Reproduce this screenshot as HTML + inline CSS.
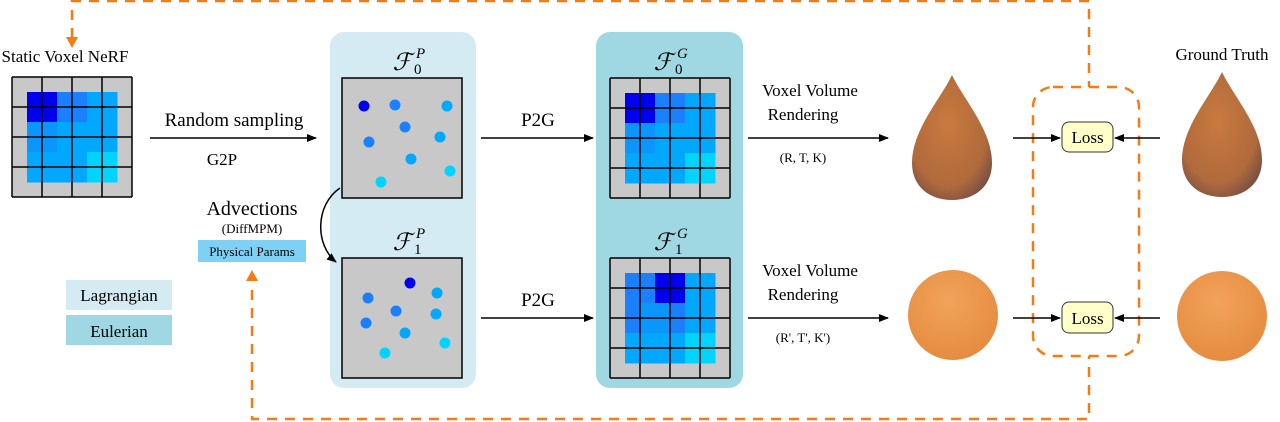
<!DOCTYPE html>
<html><head><meta charset="utf-8"><style>
html,body{margin:0;padding:0;background:#fff;width:1280px;height:422px;overflow:hidden}
svg, svg text{font-family:"Liberation Serif","DejaVu Serif",serif !important}
</style></head><body>
<svg id="s" width="1280" height="422" viewBox="0 0 1280 422" xmlns="http://www.w3.org/2000/svg" font-family="Liberation Serif, DejaVu Serif, serif">
<defs>
<marker id="ah" markerWidth="10" markerHeight="8" refX="9" refY="4" orient="auto" markerUnits="userSpaceOnUse"><path d="M0,0 L10,4 L0,8 z" fill="#000"/></marker>
<radialGradient id="drop" cx="0.45" cy="0.4" r="0.7"><stop offset="0" stop-color="#c97a3e"/><stop offset="0.7" stop-color="#b06a3c"/><stop offset="1" stop-color="#6e4a45"/></radialGradient>
<radialGradient id="sph" cx="0.45" cy="0.35" r="0.7"><stop offset="0" stop-color="#f2a35a"/><stop offset="1" stop-color="#e48a3f"/></radialGradient>
</defs>
<g stroke="#f57c14" stroke-width="2.5" fill="none" stroke-dasharray="10,8">
<path d="M72,38 L72,1 L1089,1 L1089,87"/>
<path d="M252,290 L252,419 L1089,419 L1089,356"/>
<rect x="1033" y="87" width="106" height="269" rx="20"/>
</g>
<path d="M66,37 L78,37 L72,48 z" fill="#f57c14"/>
<path d="M246,281 L258,281 L252,270 z" fill="#f57c14"/>

<g><rect x="330" y="32" width="146" height="356" rx="14" fill="#d5ebf4"/></g>
<g><rect x="596" y="32" width="147" height="356" rx="14" fill="#9fd8e2"/></g>

<g id="grids"></g>

<text x="65" y="62" font-size="17" text-anchor="middle">Static Voxel NeRF</text>
<text x="234" y="126" font-size="19" text-anchor="middle">Random sampling</text>
<line x1="150" y1="138" x2="316" y2="138" stroke="#000" stroke-width="1.5" marker-end="url(#ah)"/>
<text x="222" y="165" font-size="17" text-anchor="middle">G2P</text>
<text x="252" y="215" font-size="20" text-anchor="middle">Advections</text>
<text x="252" y="233" font-size="13" text-anchor="middle">(DiffMPM)</text>
<rect x="198" y="240" width="108" height="22" fill="#7fd0f5"/>
<text x="252" y="256" font-size="13" text-anchor="middle">Physical Params</text>
<path d="M340,188 C315,205 315,245 336,262" fill="none" stroke="#000" stroke-width="1.5" marker-end="url(#ah)"/>

<text x="402" y="70" font-size="24" font-style="italic" text-anchor="middle">ℱ</text><text x="416" y="58" font-size="15" font-style="italic">P</text><text x="414" y="74" font-size="15">0</text>
<text x="402" y="250" font-size="24" font-style="italic" text-anchor="middle">ℱ</text><text x="416" y="238" font-size="15" font-style="italic">P</text><text x="414" y="254" font-size="15">1</text>
<text x="663" y="70" font-size="24" font-style="italic" text-anchor="middle">ℱ</text><text x="677" y="58" font-size="15" font-style="italic">G</text><text x="675" y="74" font-size="15">0</text>
<text x="663" y="250" font-size="24" font-style="italic" text-anchor="middle">ℱ</text><text x="677" y="238" font-size="15" font-style="italic">G</text><text x="675" y="254" font-size="15">1</text>

<text x="538" y="126" font-size="19" text-anchor="middle">P2G</text>
<line x1="481" y1="138" x2="593" y2="138" stroke="#000" stroke-width="1.5" marker-end="url(#ah)"/>
<text x="538" y="306" font-size="19" text-anchor="middle">P2G</text>
<line x1="481" y1="318" x2="593" y2="318" stroke="#000" stroke-width="1.5" marker-end="url(#ah)"/>

<text x="810" y="96" font-size="17" text-anchor="middle">Voxel Volume</text>
<text x="803" y="120" font-size="17" text-anchor="middle">Rendering</text>
<line x1="748" y1="138" x2="888" y2="138" stroke="#000" stroke-width="1.5" marker-end="url(#ah)"/>
<text x="803" y="162" font-size="13" text-anchor="middle">(R, T, K)</text>
<text x="810" y="276" font-size="17" text-anchor="middle">Voxel Volume</text>
<text x="803" y="300" font-size="17" text-anchor="middle">Rendering</text>
<line x1="748" y1="318" x2="888" y2="318" stroke="#000" stroke-width="1.5" marker-end="url(#ah)"/>
<text x="803" y="342" font-size="13" text-anchor="middle">(R', T', K')</text>

<g id="objs"></g>

<text x="1222" y="60" font-size="17" text-anchor="middle">Ground Truth</text>
<line x1="1013" y1="138" x2="1060" y2="138" stroke="#000" stroke-width="1.5" marker-end="url(#ah)"/>
<line x1="1160" y1="138" x2="1115" y2="138" stroke="#000" stroke-width="1.5" marker-end="url(#ah)"/>
<line x1="1013" y1="318" x2="1060" y2="318" stroke="#000" stroke-width="1.5" marker-end="url(#ah)"/>
<line x1="1160" y1="318" x2="1115" y2="318" stroke="#000" stroke-width="1.5" marker-end="url(#ah)"/>
<g><rect x="1062" y="122" width="51" height="30" rx="7" fill="#ffffc8" stroke="#333" stroke-width="1"/><text x="1087.5" y="143" font-size="17" text-anchor="middle">Loss</text></g>
<g><rect x="1062" y="302" width="51" height="31" rx="7" fill="#ffffc8" stroke="#333" stroke-width="1"/><text x="1087.5" y="324" font-size="17" text-anchor="middle">Loss</text></g>

<g><rect x="66" y="280" width="106" height="30" fill="#d5ebf4"/><text x="119" y="301" font-size="17" text-anchor="middle">Lagrangian</text></g>
<g><rect x="66" y="315" width="106" height="30" fill="#9fd8e2"/><text x="119" y="337" font-size="17" text-anchor="middle">Eulerian</text></g>
</svg>
<script>
const NS='http://www.w3.org/2000/svg';
const palette={D:'#0000ee',B:'#1a80ff',C:'#0a95ff',E:'#00a8ff',F:'#00d4ff'};
const gridStatic=['DDBBEE','DDBBEE','CCEEEE','CCEEEE','EEEEFF','EEEEFF'];
const gridF1=['BBDDEE','BBDDEE','BCCBEE','BCCBEE','EEEEFF','EEEEFF'];
const dotsF0x=[364,395,447,405,440,369,411,450,381];
const dotsF0y=[106,105,106,127,137,142,159,171,182];
const dotsF0c=['D','B','E','B','E','B','E','F','F'];
const dotsF1x=[410,368,437,396,436,366,405,445,385];
const dotsF1y=[283,298,293,311,314,323,333,343,353];
const dotsF1c=['D','B','E','B','E','B','E','F','F'];
const G=document.getElementById('grids');
function mk(t,a,p){const e=document.createElementNS(NS,t);for(const k in a)e.setAttribute(k,a[k]);(p||G).appendChild(e);return e;}
function voxel(x,y,m,name){
  const g=mk('g',{});
  
  
  mk('rect',{x:x,y:y,width:120,height:120,fill:'#c8c8c8'},g);
  m.forEach((row,r)=>{[...row].forEach((c,ci)=>{
    const cell=mk('rect',{x:x+15+ci*15,y:y+15+r*15,width:15.5,height:15.5,fill:palette[c]},g);
    
    
  });});
  for(let i=0;i<=4;i++){mk('line',{x1:x+i*30,y1:y,x2:x+i*30,y2:y+120,stroke:'#000','stroke-width':1.5},g);mk('line',{x1:x,y1:y+i*30,x2:x+120,y2:y+i*30,stroke:'#000','stroke-width':1.5},g);}
}
function particles(x,y,xs,ys,cs,name){
  const g=mk('g',{});
  
  
  mk('rect',{x:x,y:y,width:120,height:120,fill:'#c8c8c8',stroke:'#000','stroke-width':1.5},g);
  xs.forEach((px,i)=>{
    const c=mk('circle',{cx:px,cy:ys[i],r:5.5,fill:palette[cs[i]]},g);
    
    
  });
}
voxel(12,77,gridStatic,'static-voxel-grid');
voxel(610,78,gridStatic,'grid-f0-g');
voxel(610,258,gridF1,'grid-f1-g');
particles(342,78,dotsF0x,dotsF0y,dotsF0c,'particles-f0-p');
particles(342,258,dotsF1x,dotsF1y,dotsF1c,'particles-f1-p');
const O=document.getElementById('objs');
const dropCx=[952,1222];
const dropTop=[75,72];
const sphCx=[953,1222];
const sphCy=[315,316];
[0,1].forEach(i=>{
  const cx=dropCx[i],t=dropTop[i];
  const d=mk('path',{d:`M${cx},${t} C${cx+12},${t+25} ${cx+40},${t+55} ${cx+40},${t+88} C${cx+40},${t+112} ${cx+22},${t+125} ${cx},${t+125} C${cx-22},${t+125} ${cx-40},${t+112} ${cx-40},${t+88} C${cx-40},${t+55} ${cx-12},${t+25} ${cx},${t} z`,fill:'url(#drop)'},O);
  
  
  const s=mk('circle',{cx:sphCx[i],cy:sphCy[i],r:45,fill:'url(#sph)'},O);
  
  
});
</script>
</body></html>
